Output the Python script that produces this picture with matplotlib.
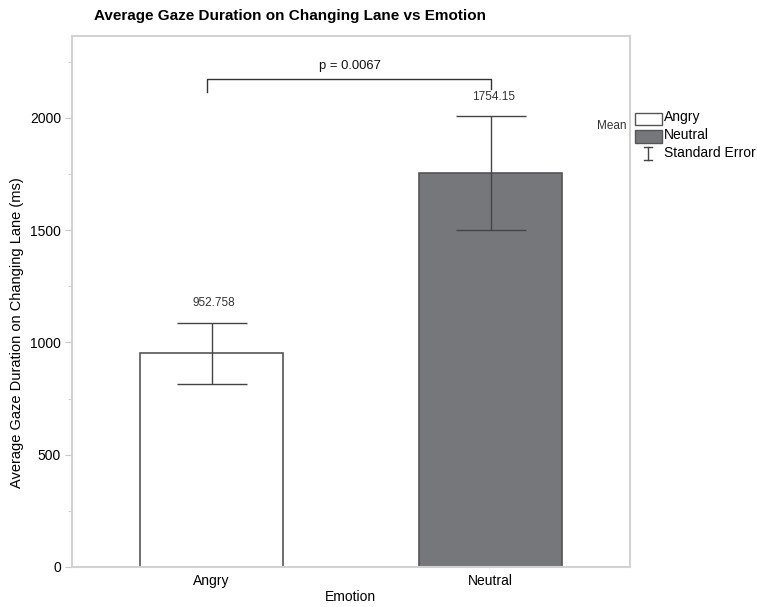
import matplotlib
matplotlib.use("Agg")
import matplotlib.pyplot as plt
from matplotlib.patches import Rectangle
from matplotlib.lines import Line2D
from matplotlib.ticker import MultipleLocator

plt.rcParams['font.family'] = ['Liberation Sans', 'DejaVu Sans']

categories = ["Angry", "Neutral"]
means = [952.758, 1754.15]
std_err = [136, 255]
mean_labels = ["952.758", "1754.15"]
p_text = "p = 0.0067"
bar_colors = ["#ffffff", "#76777b"]

fig = plt.figure(figsize=(7.57, 6.07), dpi=100)
ax = fig.add_axes([72/757, 1-567/607, (630-72)/757, (567-36)/607])

x = list(range(len(categories)))
ax.bar(x, means, width=0.515, color=bar_colors, edgecolor="#555555", linewidth=1.2, zorder=2)
ax.errorbar(x, means, yerr=std_err, fmt='none', ecolor="#444444", elinewidth=1.0,
            capsize=25, capthick=1.0, zorder=3)

for xi, m, s, lab in zip(x, means, std_err, mean_labels):
    ax.text(xi + 0.01, m + s + 85, lab, ha='center', va='center', fontsize=8.5, color="#333333")

# significance bracket
y_top = 2174
ax.plot([x[0] - 0.015, x[0] - 0.015, x[1], x[1]], [2116, y_top, y_top, 2131],
        color="#333333", linewidth=1.0, zorder=3)
ax.text((x[0] + x[1]) / 2 - 0.005, 2233, p_text, ha='center', va='center', fontsize=9.4, color="#111111")

ax.set_xlim(-0.5, 1.5)
ax.set_ylim(0, 2365)
ax.set_xticks(x)
ax.set_xticklabels(categories, fontsize=10)
ax.yaxis.set_major_locator(MultipleLocator(500))
ax.yaxis.set_minor_locator(MultipleLocator(250))
ax.tick_params(axis='y', which='major', length=5, color="#c8c8c8", labelsize=10, pad=3)
ax.tick_params(axis='y', which='minor', length=3, color="#c8c8c8")
ax.tick_params(axis='x', length=0, labelsize=10, pad=5)
for sp in ax.spines.values():
    sp.set_color("#d2d2d2")
    sp.set_linewidth(1.5)

ax.set_xlabel("Emotion", fontsize=10)
ax.xaxis.set_label_coords((350 - 72) / 558, -(597 - 567) / 531)
ax.set_ylabel("Average Gaze Duration on Changing Lane (ms)", fontsize=10.5)
ax.yaxis.set_label_coords(-(72 - 17) / 558, (567 - 332.5) / 531)
ax.yaxis.label.set_va('center')
ax.xaxis.label.set_va('center')

fig.text(290/757, 1-16/607, "Average Gaze Duration on Changing Lane vs Emotion",
         ha='center', va='center', fontsize=11, fontweight='bold')

# legend (figure coords)
W, H = 757, 607
def fx(px): return px / W
def fy(py): return 1 - py / H
fig.text(fx(612), fy(126), "Mean", ha='center', va='center', fontsize=8.5, color="#333333")
fig.patches.append(Rectangle((fx(635), fy(125)), fx(662) - fx(635), (125 - 113) / H,
                             facecolor=bar_colors[0], edgecolor="#555555", linewidth=1.0,
                             transform=fig.transFigure, figure=fig))
fig.patches.append(Rectangle((fx(635), fy(142.5)), fx(662) - fx(635), (142.5 - 130) / H,
                             facecolor=bar_colors[1], edgecolor="#555555", linewidth=1.0,
                             transform=fig.transFigure, figure=fig))
fig.text(fx(664), fy(117), categories[0], ha='left', va='center', fontsize=10)
fig.text(fx(664), fy(135), categories[1], ha='left', va='center', fontsize=10)
fig.text(fx(664), fy(153), "Standard Error", ha='left', va='center', fontsize=10)
for seg in [((648, 648), (147, 160)), ((644, 652), (147, 147)), ((644, 652), (160, 160))]:
    fig.lines.append(Line2D([fx(v) for v in seg[0]], [fy(v) for v in seg[1]],
                            color="#444444", linewidth=1.0, transform=fig.transFigure, figure=fig))

fig.savefig("out.png", dpi=100)
